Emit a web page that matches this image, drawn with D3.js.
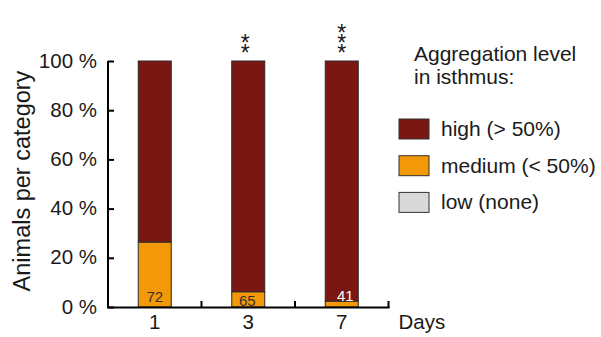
<!DOCTYPE html>
<html><head><meta charset="utf-8">
<script src="https://cdn.jsdelivr.net/npm/d3@7"></script>
<style>body{margin:0;background:#fff}text{font-family:"Liberation Sans",Arial,sans-serif;fill:#1a1a1a}</style>
</head><body>
<svg id="c" width="601" height="337"></svg>
<script>
const days = ["1","3","7"];
const counts = [72, 65, 41];
const high = [73.6, 93.8, 97.6];
const medium = [26.4, 6.2, 2.4];
const low = [0, 0, 0];
const stars = ["", "**", "***"];
const yTicks = [0, 20, 40, 60, 80, 100];
const levels = ["high (> 50%)", "medium (< 50%)", "low (none)"];
const colors = ["#7b1713", "#f39806", "#d9d9d9"];

const svg = d3.select("#c");
const x = d3.scaleBand().domain(days).range([108, 388.5]).paddingInner(0.647).paddingOuter(0.3235);
const bw = x.bandwidth();
const cx = d => x(d) + bw / 2;
const y = d3.scaleLinear().domain([0, 100]).range([307, 61]);

// y axis
const ya = svg.append("g").attr("transform", "translate(108,0)")
  .call(d3.axisRight(y).tickValues(yTicks).tickSize(6).tickFormat(""));
ya.select(".domain").attr("stroke", "#000").attr("stroke-width", 2).attr("d", `M0,${y(100)}V${y(0)}`);
ya.selectAll(".tick line").attr("stroke", "#000").attr("stroke-width", 2);
svg.append("g").selectAll("text").data(yTicks).join("text")
  .attr("x", 97).attr("y", d => y(d) + 6.5).attr("text-anchor", "end")
  .attr("font-size", 20.5).text(d => d + " %");

// bars (stacked: low, medium, high from bottom)
days.forEach((d, i) => {
  let acc = 0;
  [[2, low[i]], [1, medium[i]], [0, high[i]]].forEach(([ci, v]) => {
    if (v <= 0) return;
    svg.append("rect")
      .attr("x", x(d)).attr("width", bw)
      .attr("y", y(acc + v)).attr("height", y(acc) - y(acc + v))
      .attr("fill", colors[ci]).attr("stroke", "#2a2a2a").attr("stroke-width", 1);
    acc += v;
  });
});

// x axis with category boundary ticks
const step = x.step();
const xEnd = 108 + step * days.length;
svg.append("line").attr("x1", 107).attr("x2", xEnd + 1).attr("y1", 307.5).attr("y2", 307.5)
  .attr("stroke", "#000").attr("stroke-width", 2);
const bounds = d3.range(1, days.length + 1).map(k => 108 + k * step);
svg.selectAll(".mt").data(bounds).join("line").attr("class", "mt")
  .attr("x1", d => d).attr("x2", d => d).attr("y1", 301).attr("y2", 308)
  .attr("stroke", "#000").attr("stroke-width", 2);
svg.selectAll(".xl").data(days).join("text").attr("class", "xl")
  .attr("x", d => cx(d)).attr("y", 329).attr("text-anchor", "middle")
  .attr("font-size", 20.5).text(d => d);
svg.append("text").attr("x", 398.5).attr("y", 329).attr("font-size", 20.5).text("Days");

// counts
const cntDx = [0, -1, 3.5];
const cntY = [302, 306, 300.5];
svg.selectAll(".cnt").data(days).join("text").attr("class", "cnt")
  .attr("x", (d, i) => cx(d) + cntDx[i]).attr("y", (d, i) => cntY[i]).attr("text-anchor", "middle")
  .attr("font-size", 15)
  .style("fill", (d, i) => i === 2 ? "#fff" : "#333")
  .text((d, i) => counts[i]);

// significance stars, stacked vertically (single vertical text per bar)
const starDx = [0, -3, 0];
days.forEach((d, i) => {
  const n = stars[i].length;
  if (!n) return;
  svg.append("text")
    .attr("x", cx(d) + starDx[i])
    .attr("y", 49 - n * 9.7)
    .attr("font-size", 23)
    .style("writing-mode", "vertical-rl")
    .style("text-orientation", "upright")
    .style("letter-spacing", "-16px")
    .text(stars[i]);
});

// y label
svg.append("text").attr("transform", "translate(30,181) rotate(-90)")
  .attr("text-anchor", "middle").attr("font-size", 23.5).text("Animals per category");

// legend
svg.append("text").attr("x", 414).attr("y", 61).attr("font-size", 21).text("Aggregation level");
svg.append("text").attr("x", 414).attr("y", 83.5).attr("font-size", 21).text("in isthmus:");
const lg = svg.selectAll(".lg").data(levels).join("g").attr("class", "lg")
  .attr("transform", (d, i) => `translate(399,${119 + i * 36.7})`);
lg.append("rect").attr("width", 30).attr("height", 20)
  .attr("fill", (d, i) => colors[i]).attr("stroke", "#333").attr("stroke-width", 1);
lg.append("text").attr("x", 42).attr("y", 17).attr("font-size", 21).text(d => d);
</script>
</body></html>
